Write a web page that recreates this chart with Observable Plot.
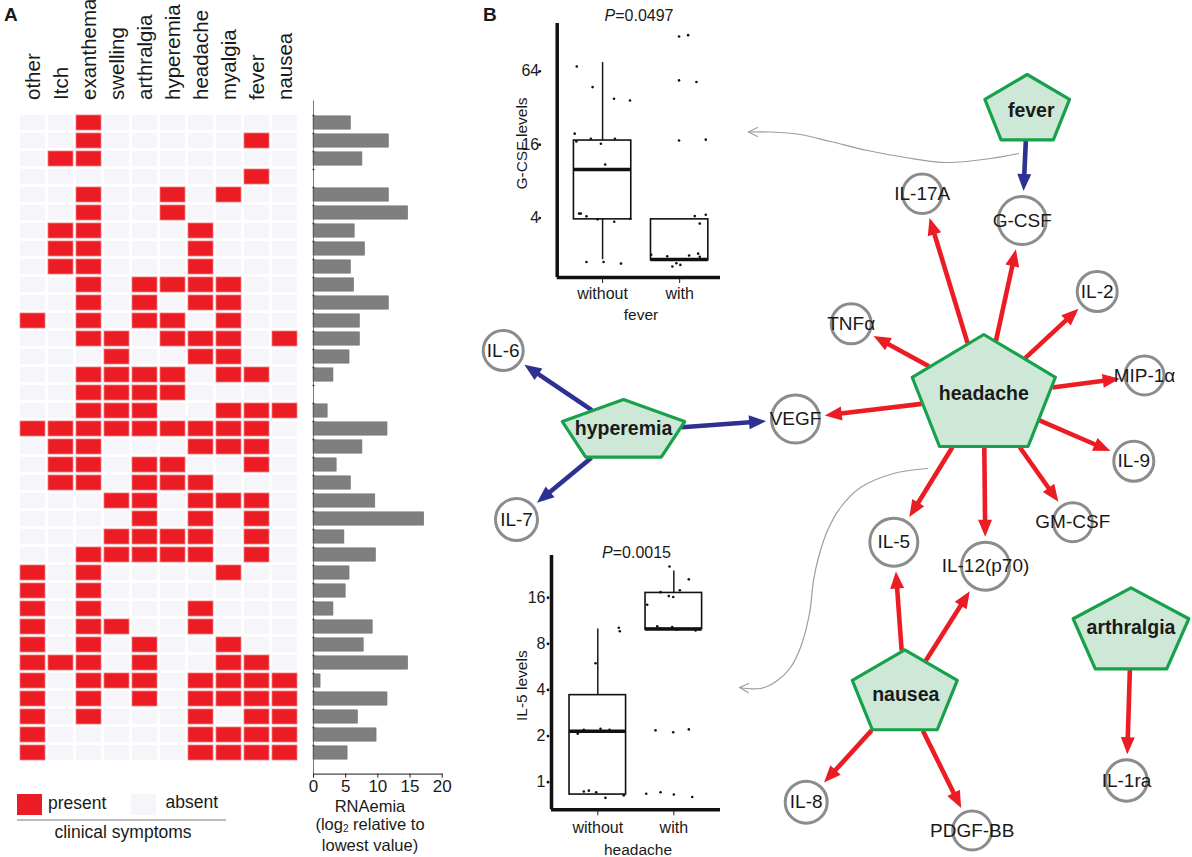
<!DOCTYPE html>
<html><head><meta charset="utf-8">
<script src="https://cdn.jsdelivr.net/npm/d3@7"></script>
<script src="https://cdn.jsdelivr.net/npm/@observablehq/plot@0.6"></script>
<style>
body{margin:0;background:#fff}
#fig{position:relative;width:1192px;height:857px;overflow:hidden;font-family:"Liberation Sans",Arial,sans-serif;color:#1a1a1a;background:#fff}
#fig svg{position:absolute;overflow:visible}
.t{position:absolute;white-space:nowrap;line-height:1}
.boxp [aria-label^="x-axis"] line{stroke-width:3px}
</style></head>
<body><div id="fig"></div>
<script>
// ---------- DATA ----------
const symptoms = ["other","Itch","exanthema","swelling","arthralgia","hyperemia","headache","myalgia","fever","nausea"];
// one string per patient, one flag per symptom (1 = present)
const presence = [
"0010000000","0010000010","0110000000","0000000010","0010010100","0010010000",
"0110001000","0110001000","0110001000","0010111100","0010101100","1010110100",
"0011011101","0001001100","0011110110","0011110000","0011100111","1111111110",
"0110001110","0110110010","0110111000","0001101110","0000101010","0001111010",
"0011111010","1010000100","1010000000","1010001000","1011001000","1010100100",
"1110100110","1011101111","1010101111","1010001011","1000001111","1000001111"];
const rnaemia = [5.8,11.7,7.6,0,11.7,14.7,6.4,8.0,5.8,6.3,11.7,7.2,7.2,5.6,3.1,0,2.2,11.5,
7.6,3.6,5.8,9.6,17.2,4.8,9.7,5.6,5.0,3.1,9.2,7.8,14.7,1.1,11.5,6.9,9.8,5.3];
const rnaemiaTicks = [0,5,10,15,20];

const groups = ["without","with"];
const gcsfQ1 = [3.9, 1.8], gcsfMedian = [10.0, 1.83], gcsfQ3 = [17.3, 3.9], gcsfLow = [1.82, 1.8], gcsfHigh = [75.5, 3.9];
const gcsfWithout = [70.2,47.5,38.1,36.9,19.7,17.0,17.9,16.3,17.9,11.0,4.35,4.35,4.13,3.9,3.73,3.95,1.74,1.74,1.69];
const gcsfWithoutJitter = [-0.335,-0.13,0.148,0.356,-0.362,-0.34,-0.153,-0.022,0.16,0.034,-0.305,-0.283,-0.209,-0.065,0.151,0.36,-0.209,0.013,0.239];
const gcsfWith = [123.7,126.8,53.9,52.3,17.3,17.6,4.15,4.26,3.6,2.0,1.94,1.97,2.04,1.92,1.6,1.7,1.65];
const gcsfWithJitter = [-0.008,0.11,-0.008,0.218,-0.008,0.339,0.196,0.339,0.261,-0.369,-0.161,0.123,0.24,0.261,-0.095,-0.043,0.009];
const gcsfTicks = [4,16,64];

const il5Q1 = [0.83, 10.0], il5Median = [2.15, 10.0], il5Q3 = [3.7, 17.2], il5Low = [0.83, 10.0], il5High = [10.0, 23.9];
const il5Without = [2.07,2.2,2.23,2.2,2.12,5.98,10.2,9.68,0.87,0.88,0.86,0.79,0.82];
const il5WithoutJitter = [-0.263,-0.184,0.036,0.154,-0.271,-0.03,0.276,0.289,-0.184,-0.118,-0.021,0.101,0.342];
const il5With = [25.6,21.1,17.4,16.4,16.2,17.9,14.4,10.0,10.4,10.1,10.3,9.9,9.78,10.0,2.18,2.12,2.21,0.84,0.86,0.83,0.80];
const il5WithJitter = [-0.057,0.197,-0.175,-0.066,-0.008,0.079,-0.35,-0.372,-0.218,-0.175,-0.021,0.036,0.286,0.342,-0.241,-0.008,0.197,-0.363,-0.175,0,0.242];
const il5Ticks = [1,2,4,8,16];

const symptomNodes = ["fever","headache","hyperemia","nausea","arthralgia"];
const cytokineNodes = ["G-CSF","IL-17A","TNFα","IL-2","MIP-1α","VEGF","IL-9","GM-CSF","IL-5","IL-12(p70)","IL-6","IL-7","IL-8","PDGF-BB","IL-1ra"];
const edgeFrom = ["fever","headache","headache","headache","headache","headache","headache","headache","headache","headache","headache","hyperemia","hyperemia","hyperemia","nausea","nausea","nausea","nausea","arthralgia"];
const edgeTo   = ["G-CSF","G-CSF","IL-17A","TNFα","IL-2","MIP-1α","VEGF","IL-9","GM-CSF","IL-5","IL-12(p70)","IL-6","IL-7","VEGF","IL-5","IL-12(p70)","IL-8","PDGF-BB","IL-1ra"];
const edgeSign = ["-","+","+","+","+","+","+","+","+","+","+","-","-","-","+","+","+","+","+"];

// ---------- LAYOUT (network drawing positions, figure pixels) ----------
const layout = {
  symptom: { // cx, cy, rx, ry, label dx, label dy
    "fever":[1026.7,110.1,44.5,36.1,4,0], "headache":[983.3,395.9,75.3,61.9,0,-2.5],
    "hyperemia":[623,430.9,64.3,31.9,0,-3], "nausea":[904.3,693.5,55.2,44.2,1,1],
    "arthralgia":[1130.5,632.1,60.8,44.8,0,-5]},
  cytokine: { // cx, cy, r
    "G-CSF":[1021.7,220,24],"IL-17A":[921.7,193.3,19.7],"TNFα":[850.7,323.3,20],"IL-2":[1096.7,291,20],
    "MIP-1α":[1144,375,19.5],"VEGF":[795,418.5,24],"IL-9":[1133.3,460.7,20],"GM-CSF":[1072.3,521.7,19.5],
    "IL-5":[893.3,541.7,24],"IL-12(p70)":[985,565.7,24],"IL-6":[502.7,350,20],"IL-7":[516,519,21],
    "IL-8":[805.7,801.7,21],"PDGF-BB":[971.7,830,19.5],"IL-1ra":[1126,780,20.7]},
  connectors: [
    [[1018,153],[990,158],[946,162],[905,157],[867,150],[830,141],[800,134],[770,131.5],[748,131.5]],
    [[927,468],[893,473],[860,487],[840,507],[827,530],[818,557],[813,580],[809,613],[800,647],[790,667],[777,680],[760,688],[739,687]]
  ]
};

// ---------- STYLE ----------
const FONT = '"Liberation Sans", Arial, sans-serif';
const RED = "#ec1c24", ABSENT = "#f6f6fa", BLUE = "#2e3192";
const fig = document.getElementById("fig");
function place(el, left, top){ el.style.left = left+"px"; el.style.top = top+"px"; fig.appendChild(el); }
function txt(html, x, y, size, opts = {}){
  const d = document.createElement("div"); d.className = "t"; d.innerHTML = html;
  d.style.fontSize = size+"px"; if (opts.bold) d.style.fontWeight = "bold";
  d.style.transform = opts.left ? "translate(0,-50%)" : "translate(-50%,-50%)";
  place(d, x, y);
}

// ---------- PANEL A: heatmap ----------
const patients = presence.map((_, i) => i + 1);
const cells = presence.flatMap((row, i) => symptoms.map((s, j) => ({patient: i + 1, symptom: s, present: row[j] === "1"})));
const heat = Plot.plot({
  width: 306, height: 776, marginLeft: 13.4, marginRight: 3.3, marginTop: 100.5, marginBottom: 2.4,
  style: {fontFamily: FONT, fontSize: "20.5px", background: "transparent", color: "#1a1a1a"},
  x: {domain: symptoms, padding: 0.115, axis: "top", tickRotate: -90, tickSize: 0, tickPadding: 1, label: null},
  y: {domain: patients, padding: 0.19, axis: null},
  marks: [
    Plot.cell(cells.filter(d => !d.present), {x: "symptom", y: "patient", fill: ABSENT}),
    Plot.cell(cells.filter(d => d.present), {x: "symptom", y: "patient", fill: RED, stroke: "#f47f82", strokeWidth: 0.8})
  ]
});
place(heat, 0, 0);

// ---------- PANEL A: RNAemia bars ----------
const bars = rnaemia.map((v, i) => ({patient: i + 1, value: v}));
const barPlot = Plot.plot({
  width: 470, height: 857, marginLeft: 313, marginRight: 28.3, marginTop: 100.5, marginBottom: 83.4,
  style: {fontFamily: FONT, fontSize: "17px", background: "transparent", color: "#1a1a1a"},
  x: {domain: [0, 20], ticks: rnaemiaTicks, tickSize: 4, tickPadding: 2, line: true, label: null},
  y: {domain: patients, padding: 0.19, axis: null},
  marks: [
    Plot.barX(bars, {x: "value", y: "patient", fill: "#7f7f7f", stroke: "#6f6f6f", strokeWidth: 0.6, insetTop: 0.85, insetBottom: 0.85}),
    Plot.ruleX([0], {stroke: "#555", strokeWidth: 0.8}),
    Plot.dot(bars, {x: 0, y: "patient", dy: -7.5, r: 1.1, fill: "#444"})
  ]
});
place(barPlot, 0, 0);

// legend + labels panel A
txt("A", 4, 14, 19, {bold: true, left: true});
(function(){
  const sq = (x, c) => { const d = document.createElement("div"); d.style.cssText = `position:absolute;width:25px;height:21px;background:${c}`; place(d, x, 794); };
  sq(16.7, RED); sq(130.7, ABSENT);
  const ln = document.createElement("div"); ln.style.cssText = "position:absolute;width:209px;height:2px;background:#bdbdbd"; place(ln, 16.7, 819);
})();
txt("present", 48, 804, 17.5, {left: true});
txt("absent", 165.5, 803, 17.5, {left: true});
txt("clinical symptoms", 123, 833, 17.5);
txt("RNAemia", 370, 806, 16.5);
txt("(log<sub style='font-size:10px;vertical-align:-2px'>2</sub> relative to", 370, 825, 16.5);
txt("lowest value)", 370, 845, 16.5);

// ---------- PANEL B: box plots ----------
function boxPlot(o){
  const boxes = groups.map((g, i) => ({i, q1: o.q1[i], med: o.med[i], q3: o.q3[i], lo: o.lo[i], hi: o.hi[i]}));
  const pts = [
    ...o.without.map((v, k) => ({x: 0 + o.withoutJ[k], y: v})),
    ...o.with.map((v, k) => ({x: 1 + o.withJ[k], y: v}))
  ];
  const hw = 0.372;
  return Plot.plot({
    className: "boxp",
    width: o.width, height: o.height,
    marginLeft: o.ml, marginRight: o.mr, marginTop: o.mt, marginBottom: o.mb,
    style: {fontFamily: FONT, fontSize: "16px", background: "transparent", color: "#1a1a1a"},
    x: {domain: o.xDomain, ticks: [0, 1], tickFormat: i => groups[i], tickSize: 6, tickPadding: o.xPad, label: null},
    y: {type: "log", base: 2, domain: o.yDomain, ticks: o.ticks, tickFormat: d => String(d), tickSize: 0, tickPadding: o.yPad, label: null},
    marks: [
      Plot.ruleX(boxes.filter(b => b.hi > b.lo), {x: "i", y1: "lo", y2: "hi", strokeWidth: 1.5}),
      Plot.rect(boxes, {x1: d => d.i - hw, x2: d => d.i + hw, y1: "q1", y2: "q3", fill: "white", stroke: "#111", strokeWidth: 1.6}),
      Plot.ruleY(boxes, {y: "med", x1: d => d.i - hw, x2: d => d.i + hw, strokeWidth: 3.5, stroke: "#111"}),
      Plot.dot(pts, {x: "x", y: "y", r: 1.3, fill: "#111"}),
      Plot.dot(o.ticks, {x: o.xDomain[0], y: d => d, dx: -o.dotDx, r: 1.4, fill: "#111"}),
      Plot.ruleX([o.xDomain[0]], {strokeWidth: 3.5, stroke: "#111"}),
      Plot.ruleY([o.yDomain[0]], {strokeWidth: 3.5, stroke: "#111"}),
      Plot.text([o.ylabel], {text: d => d, frameAnchor: "left", textAnchor: "middle", rotate: -90, dx: o.labDx, dy: o.labDy, fontSize: 15.5})
    ]
  });
}
const box1 = boxPlot({q1: gcsfQ1, med: gcsfMedian, q3: gcsfQ3, lo: gcsfLow, hi: gcsfHigh,
  without: gcsfWithout, withoutJ: gcsfWithoutJitter, with: gcsfWith, withJ: gcsfWithJitter,
  width: 250, height: 330, ml: 76.7, mr: 10, mt: 23, mb: 53, xDomain: [-0.589, 1.53], yDomain: [1.3, 158],
  ticks: gcsfTicks, xPad: 4, yPad: 18, dotDx: 17.5, ylabel: "G-CSF levels", labDx: -35, labDy: -7});
place(box1, 480, 0);
const box2 = boxPlot({q1: il5Q1, med: il5Median, q3: il5Q3, lo: il5Low, hi: il5High,
  without: il5Without, withoutJ: il5WithoutJitter, with: il5With, withJ: il5WithJitter,
  width: 250, height: 317, ml: 71, mr: 10, mt: 15, mb: 47.7, xDomain: [-0.609, 1.614], yDomain: [0.66, 30.2],
  ticks: il5Ticks, xPad: 6, yPad: 6, dotDx: 3.5, ylabel: "IL-5 levels", labDx: -29.3, labDy: 3});
place(box2, 480, 540);

// ---------- PANEL B: network ----------
const nodes = new Map();
symptomNodes.forEach(n => { const L = layout.symptom[n]; nodes.set(n, {name: n, x: L[0], y: L[1], rx: L[2], ry: L[3], ldx: L[4], ldy: L[5]}); });
cytokineNodes.forEach(n => { const L = layout.cytokine[n]; nodes.set(n, {name: n, x: L[0], y: L[1], r: L[2]}); });
function pentVerts(n){ return d3.range(5).map(k => { const a = -Math.PI/2 + k*2*Math.PI/5; return [n.x + n.rx*Math.cos(a), n.y + n.ry*Math.sin(a)]; }); }
function rayExit(n, dx, dy){
  const v = pentVerts(n); let best = Infinity;
  for (let k = 0; k < 5; k++){
    const p = v[k], q = v[(k+1)%5], ex = q[0]-p[0], ey = q[1]-p[1];
    const den = dx*ey - dy*ex; if (Math.abs(den) < 1e-9) continue;
    const px = p[0]-n.x, py = p[1]-n.y;
    const t = (px*ey - py*ex)/den, s = (px*dy - py*dx)/den;
    if (t > 0 && s >= -1e-6 && s <= 1+1e-6) best = Math.min(best, t);
  }
  return best;
}
const HEAD_L = 17, HEAD_W = 7;
const shafts = [], heads = [];
edgeFrom.forEach((f, i) => {
  const s = nodes.get(f), t = nodes.get(edgeTo[i]);
  const vx = t.x - s.x, vy = t.y - s.y, len = Math.hypot(vx, vy), ux = vx/len, uy = vy/len;
  const te = rayExit(s, ux, uy) + 1;
  const sx = s.x + te*ux, sy = s.y + te*uy;
  const back = t.r + 1.5 + 4;
  const ex = t.x - back*ux, ey = t.y - back*uy;
  const bx = ex - HEAD_L*ux, by = ey - HEAD_L*uy, nx = -uy, ny = ux;
  shafts.push({sign: edgeSign[i], x1: sx, y1: sy, x2: bx + ux, y2: by + uy});
  [[ex, ey], [bx + HEAD_W*nx, by + HEAD_W*ny], [bx - HEAD_W*nx, by - HEAD_W*ny]].forEach(p => heads.push({id: i, sign: edgeSign[i], x: p[0], y: p[1]}));
});
const pentPts = symptomNodes.flatMap(n => pentVerts(nodes.get(n)).map(p => ({id: n, x: p[0], y: p[1]})));
const connPts = layout.connectors.flatMap((c, k) => c.map(p => ({id: k, x: p[0], y: p[1]})));
const connHeads = layout.connectors.flatMap((c, k) => {
  const a = c[c.length-2], b = c[c.length-1], dx = b[0]-a[0], dy = b[1]-a[1], l = Math.hypot(dx, dy), ux = dx/l, uy = dy/l;
  const bx = b[0] - 9*ux, by = b[1] - 9*uy;
  return [[bx - 4.5*uy, by + 4.5*ux], b, [bx + 4.5*uy, by - 4.5*ux]].map(p => ({id: k, x: p[0], y: p[1]}));
});
const sym = symptomNodes.map(n => nodes.get(n));
const cyt = cytokineNodes.map(n => nodes.get(n));
const net = Plot.plot({
  width: 732, height: 857, margin: 0,
  style: {fontFamily: FONT, background: "transparent", color: "#1a1a1a"},
  x: {domain: [460, 1192], range: [0, 732], axis: null},
  y: {domain: [0, 857], range: [0, 857], axis: null},
  r: {type: "identity"},
  marks: [
    Plot.line(connPts, {x: "x", y: "y", z: "id", curve: "catmull-rom", stroke: "#9d9d9d", strokeWidth: 1.2}),
    Plot.line(connHeads, {x: "x", y: "y", z: "id", stroke: "#9d9d9d", strokeWidth: 1.2}),
    Plot.link(shafts.filter(d => d.sign === "+"), {x1: "x1", y1: "y1", x2: "x2", y2: "y2", stroke: RED, strokeWidth: 4.6}),
    Plot.link(shafts.filter(d => d.sign === "-"), {x1: "x1", y1: "y1", x2: "x2", y2: "y2", stroke: BLUE, strokeWidth: 4.6}),
    Plot.line(heads.filter(d => d.sign === "+"), {x: "x", y: "y", z: "id", curve: "linear-closed", fill: RED, stroke: "none"}),
    Plot.line(heads.filter(d => d.sign === "-"), {x: "x", y: "y", z: "id", curve: "linear-closed", fill: BLUE, stroke: "none"}),
    Plot.dot(cyt, {x: "x", y: "y", r: "r", fill: "white", stroke: "#8c8c8c", strokeWidth: 3}),
    Plot.line(pentPts, {x: "x", y: "y", z: "id", curve: "linear-closed", fill: "#cde8d6", stroke: "#17a14b", strokeWidth: 3.2}),
    Plot.text(cyt, {x: "x", y: "y", text: "name", fontSize: 19, fill: "#1a1a1a"}),
    Plot.text(sym, {x: d => d.x + d.ldx, y: d => d.y + d.ldy, text: "name", fontSize: 19.5, fontWeight: "bold", fill: "#1a1a1a"})
  ]
});
place(net, 460, 0);

// labels panel B
txt("B", 483, 14, 19, {bold: true, left: true});
txt("<i>P</i>=0.0497", 639, 16, 16);
txt("fever", 641, 315, 15.5);
txt("<i>P</i>=0.0015", 636.5, 553, 16);
txt("headache", 638, 850, 15.5);
</script></body></html>
